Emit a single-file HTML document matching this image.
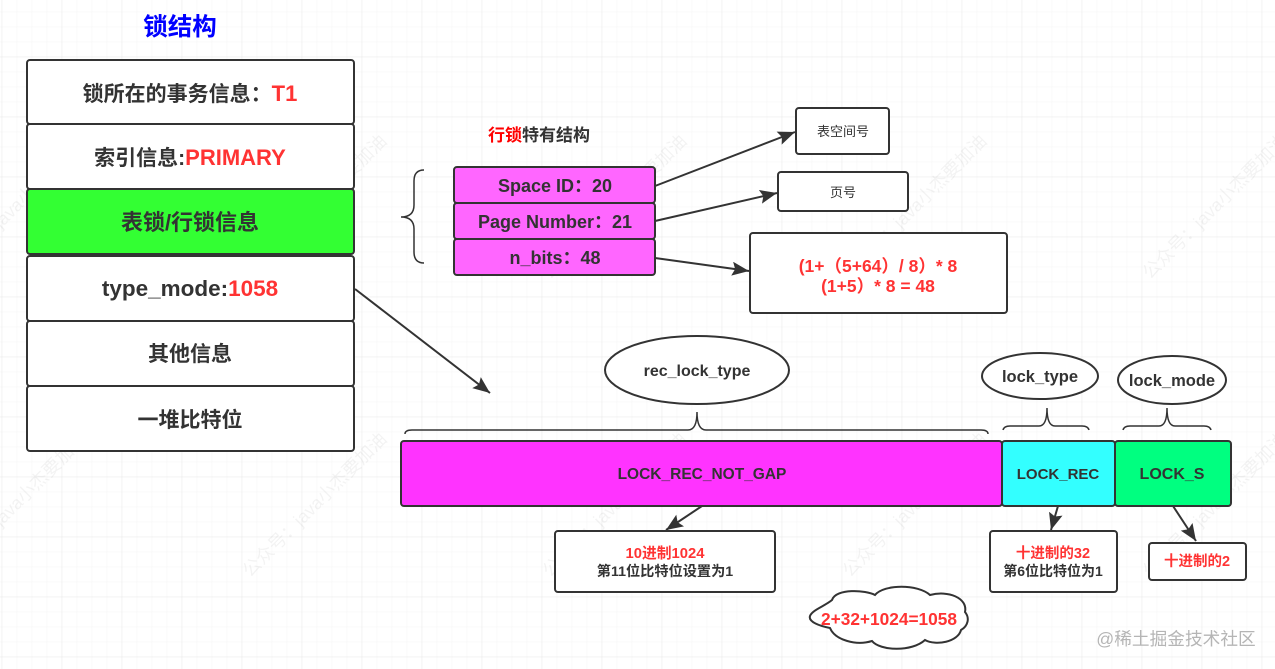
<!DOCTYPE html>
<html><head><meta charset="utf-8"><style>
html,body{margin:0;padding:0;background:#fff;width:1275px;height:669px;overflow:hidden}
svg{display:block;filter:blur(.3px)}
text{font-family:"Liberation Sans","Noto Sans CJK SC",sans-serif;font-weight:bold;fill:#333;text-anchor:middle}
.r{fill:#f33}
.wm{fill:#000;opacity:.045;font-size:18px;font-weight:normal;text-anchor:start}
</style></head><body>
<svg width="1275" height="669" viewBox="0 0 1275 669" xmlns="http://www.w3.org/2000/svg">
<defs>
<pattern id="g1" x="1.7" y="11.7" width="15" height="15" patternUnits="userSpaceOnUse"><path d="M0 0V15M0 0H15" stroke="#f5f5f5" stroke-width="1" fill="none"/></pattern>
<pattern id="g2" x="1.7" y="56.7" width="60" height="60" patternUnits="userSpaceOnUse"><path d="M0 0V60M0 0H60" stroke="#eaeaea" stroke-width="1" fill="none"/></pattern>
<marker id="a" markerWidth="20" markerHeight="16" refX="17" refY="7" orient="auto" markerUnits="userSpaceOnUse"><path d="M0 0L17 7L0 14L3 7Z" fill="#333"/></marker>
</defs>
<rect width="1275" height="669" fill="#fff"/>
<rect width="1275" height="669" fill="url(#g1)"/>
<rect width="1275" height="669" fill="url(#g2)"/>

<g>
<text class="wm" transform="translate(-50 280) rotate(-45)">公众号：java小杰要加油</text>
<text class="wm" transform="translate(250 280) rotate(-45)">公众号：java小杰要加油</text>
<text class="wm" transform="translate(550 280) rotate(-45)">公众号：java小杰要加油</text>
<text class="wm" transform="translate(850 280) rotate(-45)">公众号：java小杰要加油</text>
<text class="wm" transform="translate(1150 280) rotate(-45)">公众号：java小杰要加油</text>
<text class="wm" transform="translate(-50 578) rotate(-45)">公众号：java小杰要加油</text>
<text class="wm" transform="translate(250 578) rotate(-45)">公众号：java小杰要加油</text>
<text class="wm" transform="translate(550 578) rotate(-45)">公众号：java小杰要加油</text>
<text class="wm" transform="translate(850 578) rotate(-45)">公众号：java小杰要加油</text>
<text class="wm" transform="translate(1150 578) rotate(-45)">公众号：java小杰要加油</text>
</g>

<text x="180" y="35" font-size="24.5" style="fill:#00f">锁结构</text>

<g stroke="#333" stroke-width="2">
<rect x="27" y="60" width="327" height="64" rx="3" fill="#fff"/>
<rect x="27" y="124" width="327" height="65" rx="3" fill="#fff"/>
<rect x="27" y="189" width="327" height="65" rx="3" fill="#3f3"/>
<rect x="27" y="256" width="327" height="65" rx="3" fill="#fff"/>
<rect x="27" y="321" width="327" height="65" rx="3" fill="#fff"/>
<rect x="27" y="386" width="327" height="65" rx="3" fill="#fff"/>
</g>
<text x="190" y="101" font-size="21">锁所在的事务信息：<tspan class="r" font-size="22">T1</tspan></text>
<text x="190" y="165" font-size="21">索引信息:<tspan class="r" font-size="22">PRIMARY</tspan></text>
<text x="190" y="230" font-size="22">表锁/行锁信息</text>
<text x="190" y="296" font-size="22.5">type_mode:<tspan class="r">1058</tspan></text>
<text x="190" y="361" font-size="21">其他信息</text>
<text x="190" y="427" font-size="21">一堆比特位</text>

<text x="539" y="141" font-size="17"><tspan style="fill:#f00">行锁</tspan>特有结构</text>

<path d="M424 170Q414 170 414 181V205Q414 217 401 217Q414 217 414 229V252Q414 263 424 263" fill="none" stroke="#333" stroke-width="1.5"/>

<g stroke="#333" stroke-width="2" fill="#f6f">
<rect x="454" y="167" width="201" height="36" rx="3"/>
<rect x="454" y="203" width="201" height="36" rx="3"/>
<rect x="454" y="239" width="201" height="36" rx="3"/>
</g>
<text x="555" y="192" font-size="18">Space ID：20</text>
<text x="555" y="228" font-size="18">Page Number：21</text>
<text x="555" y="264" font-size="18">n_bits：48</text>

<g stroke="#333" stroke-width="2" fill="#fff">
<rect x="796" y="108" width="93" height="46" rx="3"/>
<rect x="778" y="172" width="130" height="39" rx="3"/>
<rect x="750" y="233" width="257" height="80" rx="3"/>
</g>
<text x="843" y="136" font-size="13" style="font-weight:normal">表空间号</text>
<text x="843" y="197" font-size="13" style="font-weight:normal">页号</text>
<text x="878" y="272" font-size="17.5" class="r">(1+（5+64）/ 8）* 8</text>
<text x="878" y="292" font-size="17.5" class="r">(1+5）* 8 = 48</text>

<g stroke="#333" stroke-width="2" fill="none">
<path d="M655 186L795 132" marker-end="url(#a)"/>
<path d="M655 221L777 193" marker-end="url(#a)"/>
<path d="M655 258L749 271" marker-end="url(#a)"/>
<path d="M355 289L490 393" marker-end="url(#a)"/>
<path d="M702 506L666 530" marker-end="url(#a)"/>
<path d="M1058 506L1051 530" marker-end="url(#a)"/>
<path d="M1173 506L1196 541" marker-end="url(#a)"/>
</g>

<g stroke="#333" stroke-width="2" fill="#fff">
<ellipse cx="697" cy="370" rx="92" ry="34"/>
<ellipse cx="1040" cy="376" rx="58" ry="23"/>
<ellipse cx="1172" cy="380" rx="54" ry="24"/>
</g>
<text x="697" y="376" font-size="16">rec_lock_type</text>
<text x="1040" y="382" font-size="16.5">lock_type</text>
<text x="1172" y="386" font-size="16.5">lock_mode</text>

<g fill="none" stroke="#333" stroke-width="1.5">
<path d="M405 434Q405 430 412 430H688Q697 430 697 412Q697 430 706 430H981Q988 430 988 434"/>
<path d="M1003 430Q1004 426 1010 426H1039Q1047 426 1047 408Q1047 426 1055 426H1082Q1088 426 1089 430"/>
<path d="M1123 430Q1124 426 1130 426H1159Q1167 426 1167 408Q1167 426 1175 426H1204Q1210 426 1211 430"/>
</g>

<g stroke="#333" stroke-width="2">
<rect x="401" y="441" width="601" height="65" rx="3" fill="#f3f"/>
<rect x="1002" y="441" width="113" height="65" rx="3" fill="#3ff"/>
<rect x="1115" y="441" width="116" height="65" rx="3" fill="#00ff80"/>
</g>
<text x="702" y="479" font-size="15.5">LOCK_REC_NOT_GAP</text>
<text x="1058" y="479" font-size="15">LOCK_REC</text>
<text x="1172" y="479" font-size="16">LOCK_S</text>

<g stroke="#333" stroke-width="2" fill="#fff">
<rect x="555" y="531" width="220" height="61" rx="3"/>
<rect x="990" y="531" width="127" height="61" rx="3"/>
<rect x="1149" y="543" width="97" height="37" rx="3"/>
</g>
<text x="665" y="558" font-size="14.8" class="r">10进制1024</text>
<text x="665" y="576" font-size="14.2">第11位比特位设置为1</text>
<text x="1053" y="558" font-size="14.5" class="r">十进制的32</text>
<text x="1053" y="576" font-size="14">第6位比特位为1</text>
<text x="1197" y="566" font-size="14.5" class="r">十进制的2</text>

<path d="M832 600C836 588 866 590 875 595C884 584 918 584 930 595C948 590 968 598 965 612C970 618 968 626 961 630C958 642 936 646 925 640C912 652 880 651 872 641C856 646 835 640 830 628C820 626 808 622 810 616C812 610 825 606 832 600Z" fill="#fff" stroke="#333" stroke-width="2"/>
<text x="889" y="625" font-size="17.3" class="r">2+32+1024=1058</text>

<text x="1176" y="645" font-size="17.7" style="font-weight:normal;fill:#b5b5b5">@稀土掘金技术社区</text>
</svg>
</body></html>
